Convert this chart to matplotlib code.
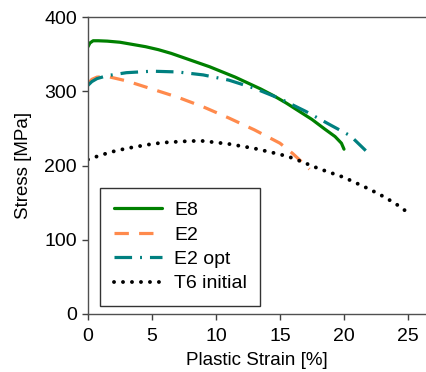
import matplotlib
matplotlib.use("Agg")
import matplotlib.pyplot as plt

plt.rcParams['font.family'] = ['Liberation Sans', 'DejaVu Sans']

e8_x = [0, 0.15, 0.4, 0.8, 1.5, 2.5, 3.5, 4.5, 5.5, 6.5, 7.5, 8.5, 9.5, 10.5, 11.5, 12.5, 13.5, 14.5, 15.5, 16.5, 17.5, 18.5, 19.3, 19.8, 20.0]
e8_y = [360, 365, 368, 368, 367.5, 366, 363, 360, 356, 351, 345, 339, 333, 326, 319, 311, 303, 294, 284, 273, 262, 249, 239, 230, 222]

e2_x = [0, 0.3, 0.7, 1.5, 3, 5, 7, 9, 11, 13, 15, 16, 17, 17.3]
e2_y = [310, 316, 319, 320, 314, 303, 292, 279, 264, 248, 230, 216, 200, 195]

e2opt_x = [0, 0.3, 0.7, 1.5, 3, 5, 7, 9, 11, 13, 15, 17, 19, 20.5, 21.7]
e2opt_y = [308, 313, 317, 321, 325, 327, 326, 322, 315, 304, 290, 273, 254, 240, 220]

t6_x = [0, 1, 2, 3, 4, 5, 6, 7, 8, 9, 10, 11, 12, 13, 14, 15, 16, 17, 18, 19, 20, 21, 22, 23, 24, 24.8]
t6_y = [208, 214, 219, 223, 226, 229, 231, 232, 233, 233, 231, 229, 226, 223, 219, 215, 210, 203, 196, 190, 184, 176, 168, 159, 149, 139]

labels = ['E8', 'E2', 'E2 opt', 'T6 initial']
xticks = [0, 5, 10, 15, 20, 25]
yticks = [0, 100, 200, 300, 400]

fig = plt.figure(figsize=(4.26, 3.72), dpi=100)
ax = fig.add_axes([88/426, 1-314/372, 1-88/426, 297/372])

ax.plot(e8_x, e8_y, color='#008000', lw=2.3, solid_capstyle='round', label=labels[0])
ax.plot(e2_x, e2_y, color='#FF8A4C', lw=2.3, linestyle=(0, (4.5, 3.2)), label=labels[1])
ax.plot(e2opt_x, e2opt_y, color='#008080', lw=2.3, linestyle=(0, (5.5, 2.5, 0.6, 2.5)), label=labels[2])
ax.plot(t6_x, t6_y, color='black', lw=2.8, linestyle=(0, (0.01, 2.3)), dash_capstyle='round', label=labels[3])

ax.set_xlim(0, 338/12.8)
ax.set_ylim(0, 400)
ax.set_xticks(xticks)
ax.set_yticks(yticks)
ax.tick_params(direction='out', length=4, width=1, colors='#404040', labelsize=14, labelcolor='black')
ax.tick_params(axis='x', pad=6)
ax.tick_params(axis='y', pad=4)
for s in ['left', 'bottom', 'top']:
    ax.spines[s].set_color('#505050')
    ax.spines[s].set_linewidth(1)
ax.spines['right'].set_visible(False)

ax.set_xlabel('Plastic Strain [%]', fontsize=13.5, labelpad=5)
ax.set_ylabel('Stress [MPa]', fontsize=13.5, labelpad=9)

leg = ax.legend(loc='lower left', bbox_to_anchor=(12/338, 8/297), fontsize=14, frameon=True,
                fancybox=False, edgecolor='black', handlelength=2.5, borderpad=0.7, labelspacing=0.35,
                handletextpad=0.6, borderaxespad=0)
leg.get_frame().set_linewidth(1)

fig.savefig('out.png', dpi=100)
